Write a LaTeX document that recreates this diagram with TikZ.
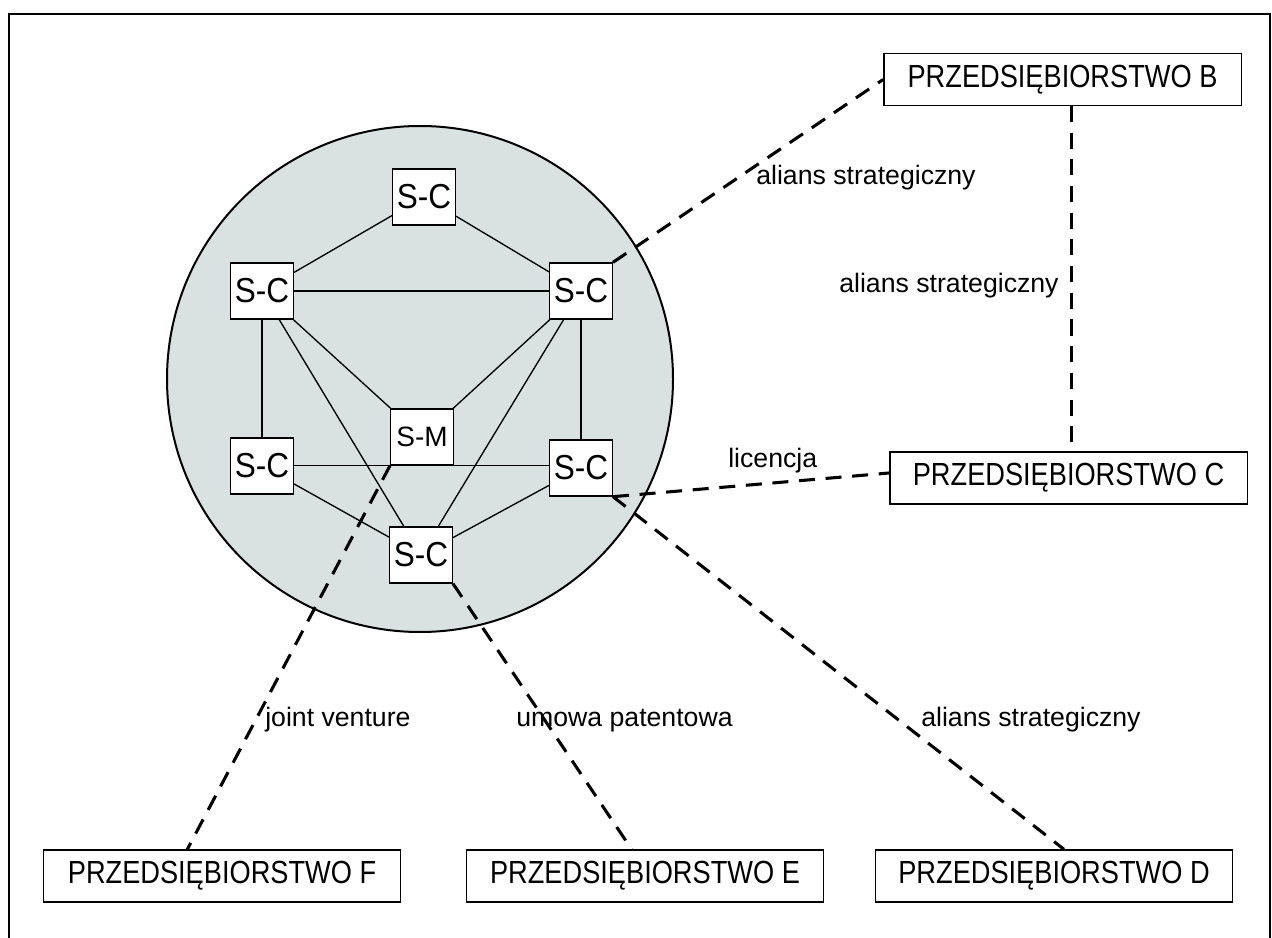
\documentclass[tikz,border=0pt]{standalone}
\usepackage{fontspec}
\setmainfont{Liberation Sans}
\newfontfamily\firmfont[FakeStretch=0.85]{Liberation Sans}
\newfontfamily\scfont[FakeStretch=0.91]{Liberation Sans}
\definecolor{circfill}{RGB}{217,226,224}
\begin{document}
\begin{tikzpicture}[x=0.75pt,y=-0.75pt,
  sc/.style={draw, fill=white, line width=1pt, minimum width=47pt, minimum height=42pt, inner sep=0pt, font=\scfont\fontsize{26}{26}\selectfont},
  firm/.style={draw, fill=white, line width=1pt, minimum width=268pt, minimum height=39pt, inner sep=0pt, font=\firmfont\fontsize{24}{24}\selectfont},
  lbl/.style={anchor=base west, inner sep=0pt, font=\fontsize{20}{20}\selectfont},
  link/.style={line width=1pt},
  deal/.style={line width=2.3pt, dash pattern=on 12pt off 8pt}]
\useasboundingbox (0,0) rectangle (1272,938);
\draw[line width=1.5pt] (9,960) -- (9,14) -- (1270,14) -- (1270,960);
\draw[line width=1.5pt, fill=circfill] (420,379) circle[radius=189.75pt];

\node[sc] (top) at (424,197) {S-C};
\node[sc] (lu) at (262,291) {S-C};
\node[sc] (ru) at (581,291) {S-C};
\node[sc] (ll) at (262,466) {S-C};
\node[sc] (rl) at (581,468) {S-C};
\node[sc] (bot) at (421,555) {S-C};
\node[sc, font=\fontsize{21}{21}\selectfont] (sm) at (422,437) {S-M};

\draw[link] (top) -- (lu);
\draw[link] (top) -- (ru);
\draw[link] (lu) -- (ru);
\draw[link] (lu) -- (ll);
\draw[link] (ru) -- (rl);
\draw[link] (lu) -- (sm);
\draw[link] (ru) -- (sm);
\draw[link] (lu) -- (bot);
\draw[link] (ru) -- (bot);
\draw[link] (ll.east |- sm.south) -- (rl.west |- sm.south);
\draw[link] (ll) -- (bot);
\draw[link] (rl) -- (bot);

\node[firm] (B) at (1062.5,79.5) {PRZEDSIĘBIORSTWO B};
\node[firm] (C) at (1068.5,478) {PRZEDSIĘBIORSTWO C};
\node[firm] (F) at (222,876) {PRZEDSIĘBIORSTWO F};
\node[firm] (E) at (645,876) {PRZEDSIĘBIORSTWO E};
\node[firm] (D) at (1054,876) {PRZEDSIĘBIORSTWO D};

\draw[deal] (ru.north east) -- (B.west);
\draw[deal] ([xshift=7pt]B.south) -- ([xshift=2.5pt]C.north);
\draw[deal] (rl.south east) -- ([yshift=3.75pt]C.west);
\draw[deal] (rl.south east) -- ([xshift=7.5pt]D.north);
\draw[deal] (bot.south east) -- ([xshift=-10pt]E.north);
\draw[deal] (sm.south west) -- ([xshift=-26pt]F.north);

\node[lbl] (l1) at (756,185) {alians strategiczny};
\node[lbl] (l2) at (839,292) {alians strategiczny};
\node[lbl] (l3) at (728,467) {licencja};
\node[lbl] (l4) at (265,726) {joint venture};
\node[lbl] (l5) at (516,726) {umowa patentowa};
\node[lbl] (l6) at (921,726) {alians strategiczny};
\end{tikzpicture}
\end{document}
